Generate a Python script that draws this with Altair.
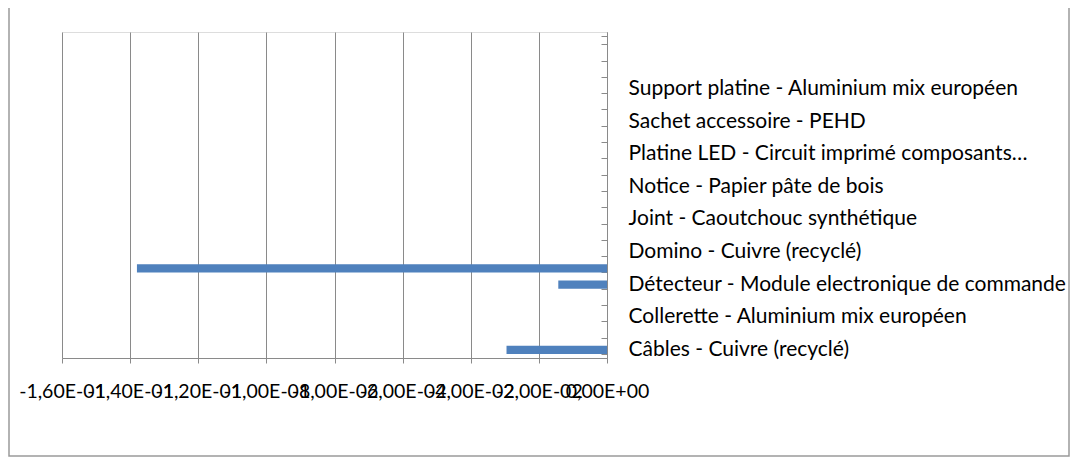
import altair as alt
import pandas as pd

# 20 category slots, bottom to top (only every other one is labelled, Excel-style)
slot_labels = [
    "Câbles - Cuivre (recyclé)", "",
    "Collerette - Aluminium mix européen", "",
    "Détecteur - Module electronique de commande", "",
    "Domino - Cuivre (recyclé)", "",
    "Joint - Caoutchouc synthétique", "",
    "Notice - Papier pâte de bois", "",
    "Platine LED - Circuit imprimé composants…", "",
    "Sachet accessoire - PEHD", "",
    "Support platine - Aluminium mix européen", "",
    "", "",
]
values = [
    -0.0295, 0, 0, 0, -0.0143, -0.138, 0, 0, 0, 0,
    0, 0, 0, 0, 0, 0, 0, 0, 0, 0,
]
x_ticks = [-0.16, -0.14, -0.12, -0.10, -0.08, -0.06, -0.04, -0.02, 0.0]
x_tick_labels = ["-1,60E-01", "-1,40E-01", "-1,20E-01", "-1,00E-01", "-8,00E-02",
                 "-6,00E-02", "-4,00E-02", "-2,00E-02", "0,00E+00"]

n = len(slot_labels)
df = pd.DataFrame({"idx": list(range(1, n + 1)), "value": values})

W, H = 545, 326
PAD_L, PAD_T = 54, 24
TOTAL_W, TOTAL_H = 1062, 449
FONT = "Lato"

x_label_expr = "[" + ",".join(f"'{t}'" for t in x_tick_labels) + "][round((datum.value + 0.16) / 0.02)]"
y_label_expr = "[''," + ",".join(f"'{t}'" for t in slot_labels) + "][datum.value]"

y_scale = alt.Scale(domain=list(range(n, 0, -1)), paddingInner=0.5, paddingOuter=0.25)
x_enc = alt.X(
    "value:Q",
    scale=alt.Scale(domain=[-0.16, 0], nice=False),
    axis=alt.Axis(
        title=None, values=x_ticks, labelExpr=x_label_expr, grid=True,
        gridColor="#8a8a8a", gridWidth=1, domainColor="#8a8a8a", tickColor="#8a8a8a",
        tickSize=5, labelOverlap=False, labelBound=False, labelFlush=False,
        labelFont=FONT, labelFontSize=19.5, labelColor="#000000", labelPadding=19,
    ),
)

bars = alt.Chart(df).mark_bar(color="#4F81BD").encode(
    x=x_enc,
    y=alt.Y(
        "idx:O", scale=y_scale,
        axis=alt.Axis(
            orient="left", offset=-W, labels=False, title=None, grid=False,
            tickBand="extent", tickSize=6, tickColor="#8a8a8a",
            domainColor="#8a8a8a",
        ),
    ),
).transform_filter("datum.value != 0")

labels_layer = alt.Chart(df).mark_bar(opacity=0).encode(
    x=alt.X("value:Q"),
    y=alt.Y(
        "idx:O", scale=y_scale,
        axis=alt.Axis(
            orient="right", title=None, ticks=False, domain=False, grid=False,
            labelExpr=y_label_expr, labelFont=FONT, labelFontSize=21,
            labelColor="#000000", labelPadding=21, labelLimit=600,
        ),
    ),
)

border = alt.Chart(df).mark_rect(fill=None, stroke="#9a9a9a", strokeWidth=1.5).encode(
    x=alt.value(-PAD_L + 1), x2=alt.value(TOTAL_W - PAD_L - 1),
    y=alt.value(-40), y2=alt.value(TOTAL_H - PAD_T - 1),
).transform_filter("datum.idx == 1")

chart = alt.layer(bars, labels_layer, border).resolve_axis(y="independent").properties(
    width=W, height=H,
    autosize=alt.AutoSizeParams(type="none"),
    padding={"left": PAD_L, "top": PAD_T, "right": TOTAL_W - PAD_L - W, "bottom": TOTAL_H - PAD_T - H},
).configure_view(stroke=None).configure(background="white")

chart.save("out.html", embed_options={"renderer": "svg", "actions": False})
